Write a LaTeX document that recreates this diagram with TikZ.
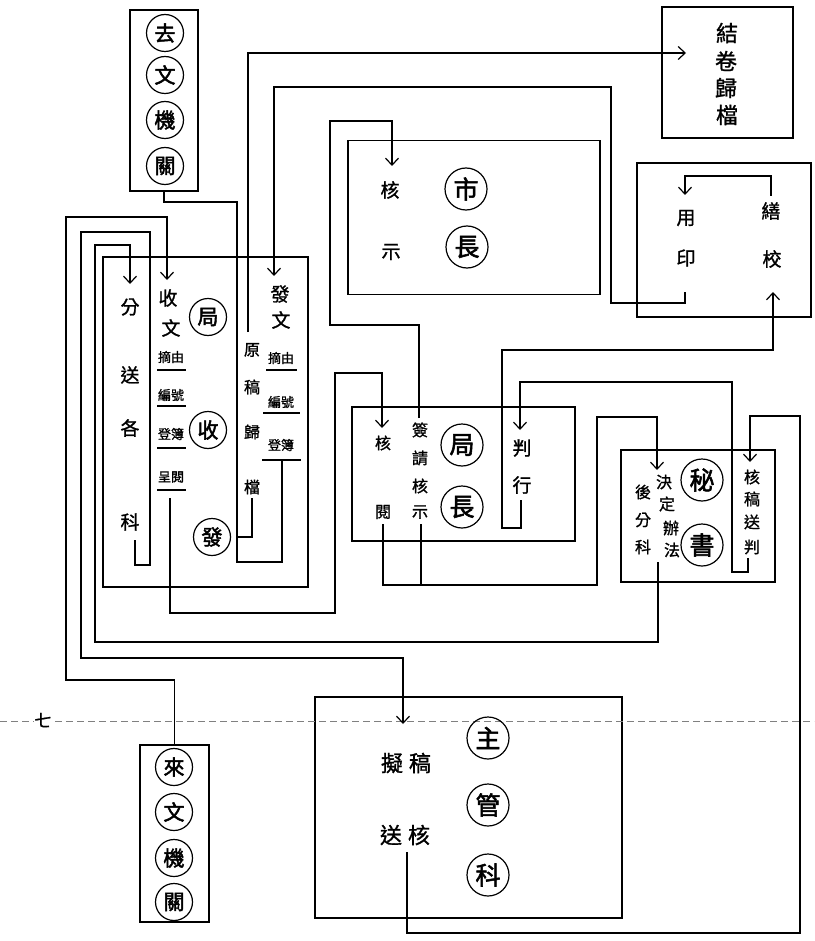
\documentclass[tikz,border=0pt]{standalone}
\usepackage{fontspec}
\newfontfamily\cjk{Noto Sans CJK TC}[FakeBold=1.2]
\newfontfamily\cjkb{Noto Sans CJK TC}[FakeBold=2.2]
\usetikzlibrary{arrows.meta}
\newcommand\zz[5][zi]{\node[#1] (#2) at (#3,#4) {#5};}
\begin{document}
\begin{tikzpicture}[x=1pt,y=-1pt,
  ln/.style={line width=1.5pt,line join=miter},
  arr/.style={ln,-{Straight Barb[length=7pt,width=13pt,line width=1.2pt]}},
  bx/.style={draw,line width=1.6pt,inner sep=0pt},
  zi/.style={font={\cjk\fontsize{19pt}{19pt}\selectfont},inner sep=0pt},
  zs/.style={font={\cjk\fontsize{16pt}{16pt}\selectfont},inner sep=0pt},
  xz/.style={font={\cjk\fontsize{13pt}{13pt}\selectfont},inner sep=0pt},
  zb/.style={font={\cjk\fontsize{22pt}{22pt}\selectfont},inner sep=0pt},
  yuan/.style={draw,circle,line width=1.2pt,minimum size=42pt,inner sep=0pt,font={\cjkb\fontsize{25pt}{25pt}\selectfont}},
  yuans/.style={yuan,minimum size=37pt,font={\cjkb\fontsize{21pt}{21pt}\selectfont}},
  ul/.style={line width=1.1pt}]
\useasboundingbox (0,0) rectangle (814,941);
% ---- boxes
\node[bx,minimum width=68pt,minimum height=181pt] (qw) at (164,100.5) {};
\node[bx,minimum width=131pt,minimum height=131pt] (jj) at (727.5,72.5) {};
\node[bx,minimum width=174pt,minimum height=154pt] (sy) at (724,240) {};
\node[bx,minimum width=252pt,minimum height=154pt] (sz) at (474,217.5) {};
\node[bx,minimum width=205pt,minimum height=330pt] (sf) at (205.5,422) {};
\node[bx,minimum width=223pt,minimum height=134pt] (jz) at (463.5,474) {};
\node[bx,minimum width=154pt,minimum height=132pt] (ms) at (698,516) {};
\node[bx,minimum width=307pt,minimum height=221pt] (zg) at (468.5,807.5) {};
\node[bx,minimum width=69pt,minimum height=177pt] (lw) at (174.5,833.5) {};
% ---- fold mark
\draw[gray,line width=0.6pt,dash pattern=on 7pt off 4pt] (0,721) -- (814,721);
\node[font={\cjk\fontsize{17pt}{17pt}\selectfont},fill=white,inner sep=1pt] (qi) at (43,720) {七};
% ---- circled characters
\zz[yuans]{q1}{165}{33}{去}\zz[yuans]{q2}{165}{75}{文}\zz[yuans]{q3}{165}{120}{機}\zz[yuans]{q4}{165}{166}{關}
\zz[yuans]{l1}{174}{767}{來}\zz[yuans]{l2}{174}{812}{文}\zz[yuans]{l3}{174}{858}{機}\zz[yuans]{l4}{174}{902}{關}
\zz[yuan]{szc1}{466}{189}{市}\zz[yuan]{szc2}{467}{247}{長}
\zz[yuans]{sfc1}{208}{317}{局}\zz[yuans]{sfc2}{208}{430}{收}\zz[yuans]{sfc3}{212}{537}{發}
\zz[yuan]{jzc1}{462}{445}{局}\zz[yuan]{jzc2}{462}{507}{長}
\zz[yuan]{msc1}{702}{480}{秘}\zz[yuan]{msc2}{702}{545}{書}
\zz[yuan]{zgc1}{488}{738}{主}\zz[yuan]{zgc2}{488}{805}{管}\zz[yuan]{zgc3}{488}{875}{科}
% ---- 結卷歸檔
\zz[zb]{j1}{727}{33}{結}\zz[zb]{j2}{726}{61}{卷}\zz[zb]{j3}{726}{88}{歸}\zz[zb]{j4}{727}{115}{檔}
% ---- 用印 繕校
\zz{y1}{686}{218}{用}\zz{y2}{686}{258}{印}\zz{s1}{771}{211}{繕}\zz{s2}{772}{259}{校}
% ---- 市長 box
\zz{h1}{390}{190}{核}\zz{h2}{391}{252}{示}
% ---- 收發 box
\zz{f1}{130}{307}{分}\zz{f2}{130}{375}{送}\zz{f3}{130}{428}{各}\zz{f4}{130}{522}{科}
\zz{r1}{168}{298}{收}\zz{r2}{171}{328}{文}
\zz[xz]{r3}{171}{357}{摘由}\zz[xz]{r4}{171}{395}{編號}\zz[xz]{r5}{171}{434}{登簿}\zz[xz]{r6}{171}{477}{呈閱}
\draw[ul] (157,370) -- (186,370) (157,406) -- (186,406) (157,448) -- (186,448) (157,490) -- (186,490);
\zz[zs]{g1}{252}{350}{原}\zz[zs]{g2}{252}{387}{稿}\zz[zs]{g3}{252}{432}{歸}\zz[zs]{g4}{252}{487}{檔}
\zz{d1}{280}{294}{發}\zz{d2}{281}{320}{文}
\zz[xz]{d3}{281}{358}{摘由}\zz[xz]{d4}{281}{402}{編號}\zz[xz]{d5}{281}{445}{登簿}
\draw[ul] (266,370) -- (297,370) (263,413) -- (300,413) (262,460) -- (301,460);
% ---- 局長 box
\zz[zs]{k1}{383}{443}{核}\zz[zs]{k2}{383}{512}{閱}
\zz[zs]{p1}{420}{430}{簽}\zz[zs]{p2}{420}{458}{請}\zz[zs]{p3}{420}{486}{核}\zz[zs]{p4}{420}{512}{示}
\zz{x1}{522}{448}{判}\zz{x2}{522}{485}{行}
% ---- 秘書 box
\zz[zs]{m1}{664}{482}{決}\zz[zs]{m2}{667}{504}{定}\zz[zs]{m3}{671}{528}{辦}\zz[zs]{m4}{672}{550}{法}
\zz[zs]{m5}{643}{492}{後}\zz[zs]{m6}{643}{520}{分}\zz[zs]{m7}{643}{547}{科}
\zz[zs]{n1}{752}{477}{核}\zz[zs]{n2}{752}{499}{稿}\zz[zs]{n3}{752}{522}{送}\zz[zs]{n4}{752}{547}{判}
% ---- 主管科 box
\zz[zb]{z1}{406}{763}{擬\hspace{6pt}稿}\zz[zb]{z2}{405}{835}{送\hspace{6pt}核}
% ---- connectors
% 發文 -> 去文機關
\coordinate (e1) at (282,460);
\draw[ln] (e1) -- (282,562) -- (237,562) -- (237,202) -- (164,202) -- (qw.south);
\coordinate (e2) at (252,498);
\draw[ln] (e2) -- (252,537) -- (237,537);
% 原稿歸檔 -> 結卷歸檔
\coordinate (e3) at (248,332);
\coordinate (t3) at (686,53);
\draw[arr] (e3) -- (248,53) -- (t3);
% 用印 -> 發文
\coordinate (e4) at (685,292);
\coordinate (t4) at (274,276);
\draw[arr] (e4) -- (685,303) -- (611,303) -- (611,87) -- (274,87) -- (t4);
% 繕校 -> 用印
\coordinate (e5) at (771,196);
\coordinate (t5) at (685,195);
\draw[arr] (e5) -- (771,176) -- (685,176) -- (t5);
% 簽請核示 -> 市長核示
\coordinate (e6) at (419,418);
\coordinate (t6) at (392,166);
\draw[arr] (e6) -- (419,325) -- (330,325) -- (330,121) -- (392,121) -- (t6);
% 核閱/簽請核示 -> 秘書
\coordinate (e7) at (383,524);
\coordinate (e7b) at (421,524);
\coordinate (t7) at (657,470);
\draw[arr] (e7) -- (383,585) -- (597,585) -- (597,417) -- (657,417) -- (t7);
\draw[ln] (e7b) -- (421,585);
% 呈閱 -> 核閱
\coordinate (e8) at (170,498);
\coordinate (t8) at (382,428);
\draw[arr] (e8) -- (170,613) -- (335,613) -- (335,373) -- (382,373) -- (t8);
% 判行 -> 繕校
\coordinate (e9) at (521,500);
\coordinate (t9) at (773,292);
\draw[arr] (e9) -- (521,528) -- (502,528) -- (502,350) -- (773,350) -- (t9);
% 核稿送判 -> 判行
\coordinate (e10) at (748,558);
\coordinate (t10) at (520,430);
\draw[arr] (e10) -- (748,572) -- (732,572) -- (732,382) -- (520,382) -- (t10);
% 送核 -> 核稿送判
\coordinate (e11) at (407,852);
\coordinate (t11) at (750,462);
\draw[arr] (e11) -- (407,933) -- (800,933) -- (800,416) -- (750,416) -- (t11);
% 來文機關 -> 收文
\coordinate (t12) at (167,280);
\draw[arr] (lw.north) -- (174.5,680) -- (66,680) -- (66,217) -- (167,217) -- (t12);
% 分送各科 -> 擬稿
\coordinate (e13) at (135,540);
\coordinate (t13) at (403,724);
\draw[arr] (e13) -- (135,565) -- (150,565) -- (150,232) -- (81,232) -- (81,658) -- (403,658) -- (t13);
% 決定辦法後分科 -> 分送各科
\coordinate (e14) at (658,562);
\coordinate (t14) at (130,284);
\draw[arr] (e14) -- (658,642) -- (95,642) -- (95,245) -- (130,245) -- (t14);
\end{tikzpicture}
\end{document}
